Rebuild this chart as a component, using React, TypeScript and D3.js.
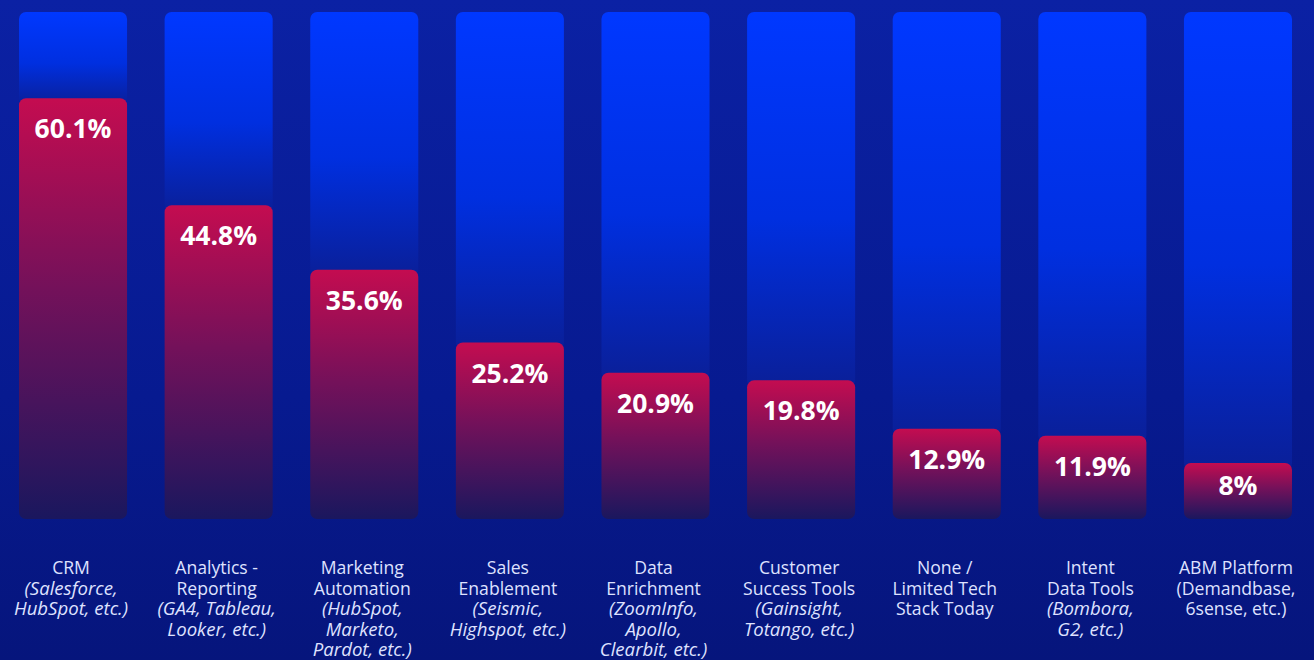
import React from "react";
import * as d3 from "d3";

const categories: { text: string; italic: boolean }[][] = [
  [{ text: "CRM", italic: false }, { text: "(Salesforce,", italic: true }, { text: "HubSpot, etc.)", italic: true }],
  [{ text: "Analytics -", italic: false }, { text: "Reporting", italic: false }, { text: "(GA4, Tableau,", italic: true }, { text: "Looker, etc.)", italic: true }],
  [{ text: "Marketing", italic: false }, { text: "Automation", italic: false }, { text: "(HubSpot,", italic: true }, { text: "Marketo,", italic: true }, { text: "Pardot, etc.)", italic: true }],
  [{ text: "Sales", italic: false }, { text: "Enablement", italic: false }, { text: "(Seismic,", italic: true }, { text: "Highspot, etc.)", italic: true }],
  [{ text: "Data", italic: false }, { text: "Enrichment", italic: false }, { text: "(ZoomInfo,", italic: true }, { text: "Apollo,", italic: true }, { text: "Clearbit, etc.)", italic: true }],
  [{ text: "Customer", italic: false }, { text: "Success Tools", italic: false }, { text: "(Gainsight,", italic: true }, { text: "Totango, etc.)", italic: true }],
  [{ text: "None /", italic: false }, { text: "Limited Tech", italic: false }, { text: "Stack Today", italic: false }],
  [{ text: "Intent", italic: false }, { text: "Data Tools", italic: false }, { text: "(Bombora,", italic: true }, { text: "G2, etc.)", italic: true }],
  [{ text: "ABM Platform", italic: false }, { text: "(Demandbase,", italic: false }, { text: "6sense, etc.)", italic: false }],
];

const values: number[] = [60.1, 44.8, 35.6, 25.2, 20.9, 19.8, 12.9, 11.9, 8];
const valueLabels: string[] = ["60.1%", "44.8%", "35.6%", "25.2%", "20.9%", "19.8%", "12.9%", "11.9%", "8%"];
const scaleMax = 72.4;

const W = 1314;
const H = 660;
const FONT = "'Open Sans', 'Noto Sans', sans-serif";

export default function App() {
  const x = d3
    .scaleBand<number>()
    .domain(d3.range(values.length))
    .range([19, 1292])
    .paddingInner(0.258)
    .paddingOuter(0);
  const y = d3.scaleLinear().domain([0, scaleMax]).range([519, 12]);
  const bw = x.bandwidth();
  const r = 7;

  return (
    <svg
      width={W}
      height={H}
      style={{ position: "absolute", left: 0, top: 0, display: "block" }}
    >
      <defs>
        <linearGradient id="bg" x1="0" y1="0" x2="0" y2="1">
          <stop offset="0" stopColor="#0b21a4" />
          <stop offset="0.6" stopColor="#071a90" />
          <stop offset="1" stopColor="#06157c" />
        </linearGradient>
        <linearGradient id="blueBar" x1="0" y1="0" x2="0" y2="1">
          <stop offset="0" stopColor="#0038ff" />
          <stop offset="0.55" stopColor="#002fe0" />
          <stop offset="1" stopColor="#0a1f98" />
        </linearGradient>
        <linearGradient id="redBar" x1="0" y1="0" x2="0" y2="1">
          <stop offset="0" stopColor="#c40c50" />
          <stop offset="0.45" stopColor="#74115a" />
          <stop offset="1" stopColor="#1a175e" />
        </linearGradient>
      </defs>
      <rect x={0} y={0} width={W} height={H} fill="url(#bg)" />
      {values.map((v, i) => {
        const x0 = x(i) as number;
        const top = y(v);
        const bottom = y(0);
        const h = bottom - top;
        const cx = x0 + bw / 2;
        const labelY = top + Math.min(40, h * 0.58);
        return (
          <g key={i}>
            <rect
              x={x0}
              y={y(scaleMax)}
              width={bw}
              height={top - y(scaleMax) + r}
              rx={r}
              fill="url(#blueBar)"
            />
            <rect x={x0} y={top} width={bw} height={h} rx={r} fill="url(#redBar)" />
            <text
              x={cx}
              y={labelY}
              textAnchor="middle"
              fill="#ffffff"
              fontFamily={FONT}
              fontWeight={700}
              fontSize={26.5}
            >
              {valueLabels[i]}
            </text>
            <text
              textAnchor="middle"
              fill="#dfe2ff"
              fontFamily={FONT}
              fontSize={17.6}
            >
              {categories[i].map((ln, j) => (
                <tspan
                  key={j}
                  x={cx - 2}
                  y={574 + j * 20.5}
                  fontStyle={ln.italic ? "italic" : "normal"}
                  fontSize={ln.italic ? 18.6 : 17.6}
                >
                  {ln.text}
                </tspan>
              ))}
            </text>
          </g>
        );
      })}
    </svg>
  );
}
